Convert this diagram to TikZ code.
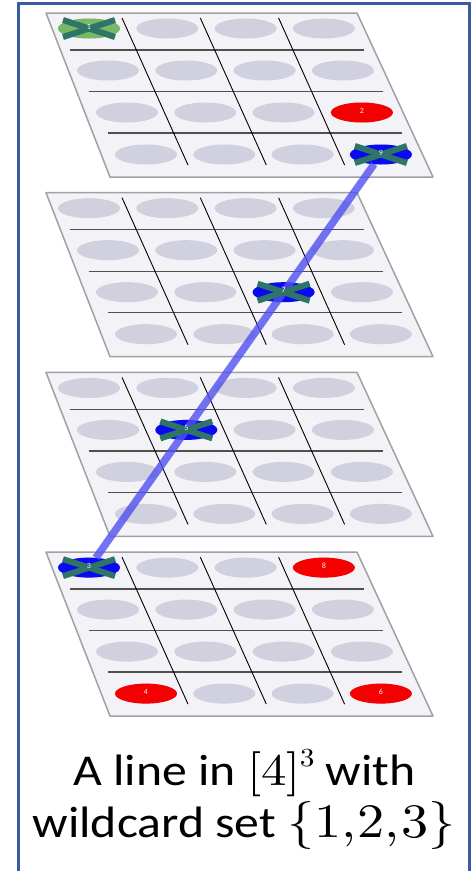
\documentclass[tikz,border=0pt]{standalone}
\usepackage[no-math]{fontspec}
\setmainfont{Carlito}
\newfontfamily\lmrfont{lmroman10-regular.otf}
\usetikzlibrary{shapes.geometric}
\definecolor{framecol}{HTML}{3A5BA0}
\definecolor{boardfill}{HTML}{F2F2F7}
\definecolor{boardline}{HTML}{A0A0A6}
\definecolor{hgridcol}{HTML}{505050}
\definecolor{cellcol}{HTML}{D0D0DE}
\definecolor{xcol}{HTML}{2E7568}
\definecolor{mgreen}{HTML}{78B864}
\definecolor{mred}{HTML}{F50000}
\definecolor{mblue}{HTML}{0A0AF0}
\definecolor{hlcol}{HTML}{5050F0}
\newcommand\lmbig[2]{{\lmrfont\fontsize{#1}{52}\selectfont #2}}
\newcommand\lmsup[1]{\raisebox{19pt}{\lmrfont\fontsize{26}{26}\selectfont #1}}
\tikzset{
  board/.style={fill=boardfill, draw=boardline, line width=1.5pt, line join=round},
  hgrid/.style={draw=hgridcol, line width=1.4pt},
  vgrid/.style={draw=black, line width=0.9pt},
  cell/.style={ellipse, fill=cellcol, minimum width=62pt, minimum height=20pt, inner sep=0pt, outer sep=0pt},
  mark/.style={cell, fill=#1},
  xbar/.style={draw=xcol, line width=6pt},
  hl/.style={draw=hlcol, line width=7.5pt, draw opacity=0.8},
  lbl/.style={text=white!92!gray, font=\fontsize{8}{8}\selectfont, inner sep=0pt},
  capt/.style={anchor=base, font=\fontsize{44}{52}\selectfont, inner sep=0pt}
}
\begin{document}
\begin{tikzpicture}[x=1pt, y=-1pt]
\useasboundingbox (0,0) rectangle (472,871);
\fill[white] (0,0) rectangle (472,871);
% frame
\draw[framecol, line width=3pt] (18.5,871) -- (18.5,3) -- (469,3) -- (469,871);
% boards
\foreach \k in {0,1,2,3}{
  \pgfmathsetmacro\dy{179.7*\k}
  \draw[board] (46,13+\dy) -- (357,13+\dy) -- (433,177+\dy) -- (110,177+\dy) -- cycle;
  \foreach \r in {1,...,4}{
    \foreach \c in {1,...,4}{
      \node[cell] (e-\k-\r-\c) at ({89+78.3*(\c-1)+19*(\r-1)},{28.5+42*(\r-1)+\dy}) {};
    }
  }
  \foreach \i in {0,1,2}{
    \draw[hgrid] ({70+19*\i},{50+41.5*\i+\dy}) -- ({364+19*\i},{50+41.5*\i+\dy});
  }
  \foreach \j in {0,1,2}{
    \draw[vgrid] ({122+78.3*\j},{18+\dy}) -- ({188+78.3*\j},{165+\dy});
  }
}
% coloured cells
\node[mark=mgreen] (m1) at (e-0-1-1) {};
\node[mark=mred]   (m2) at (e-0-3-4) {};
\node[mark=mblue]  (m9) at (e-0-4-4) {};
\node[mark=mblue]  (m7) at (e-1-3-3) {};
\node[mark=mblue]  (m5) at (e-2-2-2) {};
\node[mark=mblue]  (m3) at (e-3-1-1) {};
\node[mark=mred]   (m8) at (e-3-1-4) {};
\node[mark=mred]   (m4) at (e-3-4-1) {};
\node[mark=mred]   (m6) at (e-3-4-4) {};
% the line
\draw[hl] (m3) -- (m9);
% crosses
\foreach \n in {m1,m3,m5,m7,m9}{
  \draw[xbar] ([shift={(-26,-8.5)}]\n.center) -- ([shift={(26,8.5)}]\n.center);
  \draw[xbar] ([shift={(-26,8.5)}]\n.center) -- ([shift={(26,-8.5)}]\n.center);
}
% labels
\foreach \n/\t in {m1/1,m2/2,m3/3,m4/4,m5/5,m6/6,m7/7,m8/8,m9/9}{
  \node[lbl] (l\t) at ([yshift=2pt]\n.center) {\t};
}
% caption
\node[capt] (cap1) at (244.5,785) {\scalebox{1.13}[1]{A line in \lmbig{45}{[4]}\kern-1pt\lmsup{3} with}};
\node[capt] (cap2) at (244,837) {\scalebox{1.13}[1]{wildcard set \lmbig{48}{\{1,\kern1pt2,\kern1pt3\}}}};
\end{tikzpicture}
\end{document}
